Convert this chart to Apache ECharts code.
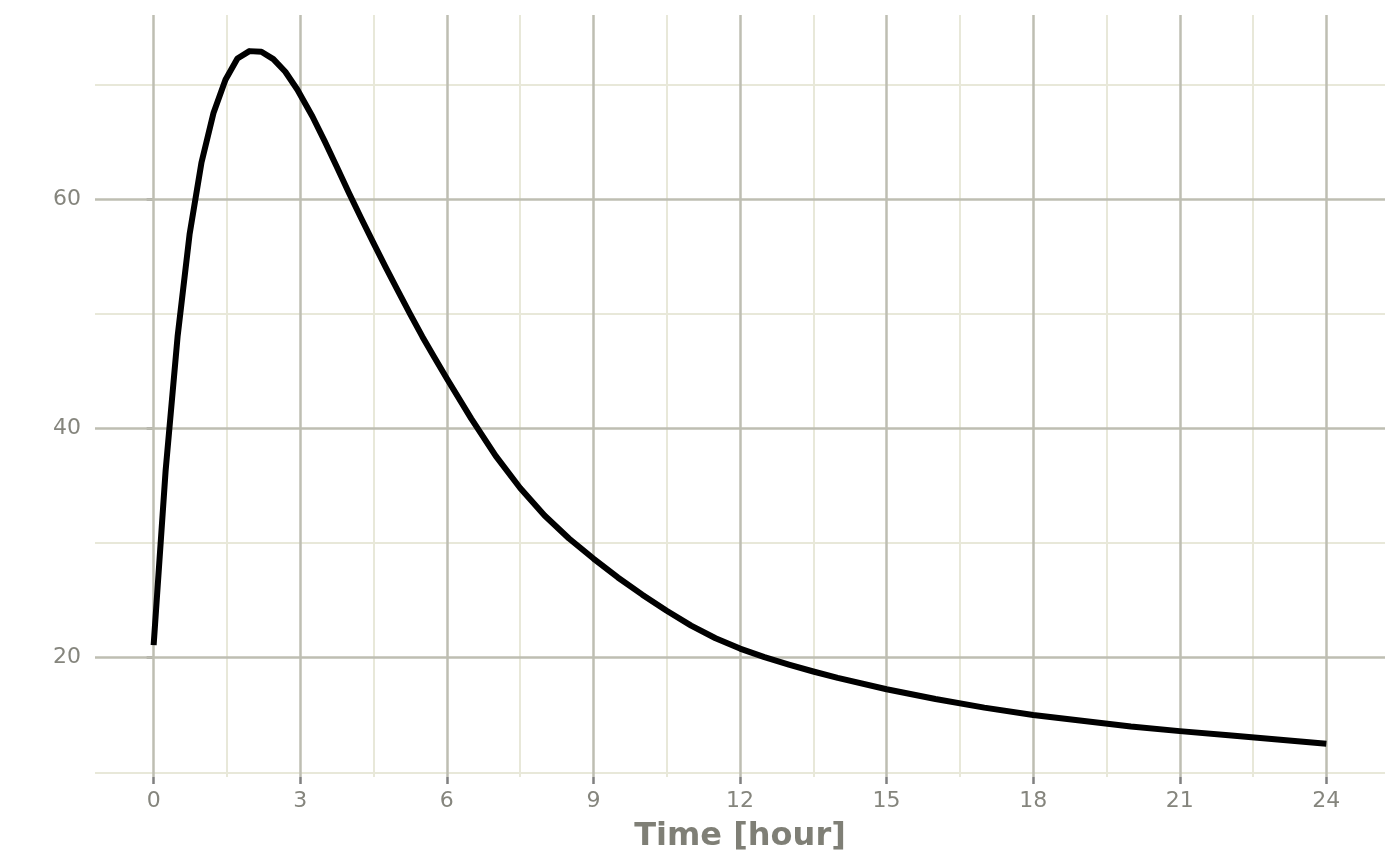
<!DOCTYPE html>
<html>
<head>
<meta charset="utf-8">
<title>Time [hour]</title>
<script src="https://cdn.jsdelivr.net/npm/echarts@6.0.0/dist/echarts.min.js"></script>
<style>
    html, body { margin: 0; padding: 0; background: #fff; }
    #chart { width: 1400px; height: 865px; }
</style>
</head>
<body>
<div id="chart"></div>
<script>
// values
var timeH = [0, 0.245, 0.49, 0.735, 0.98, 1.225, 1.47, 1.715, 1.96, 2.205, 2.45, 2.695, 2.94,
    3.25, 3.5, 3.75, 4, 4.25, 4.5, 4.75, 5, 5.25, 5.5, 5.75, 6,
    6.5, 7, 7.5, 8, 8.5, 9, 9.5, 10, 10.5, 11, 11.5, 12, 12.5, 13, 13.5, 14,
    15, 16, 17, 18, 19, 20, 21, 22, 23, 24];
var concentration = [21.1, 36.3, 48.0, 56.9, 63.2, 67.5, 70.4, 72.25, 72.9, 72.85, 72.2, 71.1, 69.55,
    67.2, 65.05, 62.8, 60.5, 58.3, 56.15, 54.05, 52.0, 49.97, 48.0, 46.15, 44.35,
    40.85, 37.6, 34.8, 32.4, 30.4, 28.65, 27.0, 25.5, 24.1, 22.8, 21.7, 20.8, 20.05, 19.4, 18.8, 18.25,
    17.25, 16.4, 15.65, 15.0, 14.5, 14.0, 13.6, 13.25, 12.87, 12.5];

var xMajor = [0, 3, 6, 9, 12, 15, 18, 21, 24];
var xMinor = [1.5, 4.5, 7.5, 10.5, 13.5, 16.5, 19.5, 22.5];
var yMajor = [20, 40, 60];
var yMinor = [10, 30, 50, 70];

var majorColor = "#bebeb2";
var minorColor = "#e8e8d9";

function gridLines(axis, values) {
    var out = [];
    for (var i = 0; i < values.length; i++) {
        var d = {};
        d[axis] = values[i];
        out.push(d);
    }
    return out;
}

function gridSeries(lines, color, width, z) {
    return {
        type: "line",
        data: [],
        z: z,
        silent: true,
        markLine: {
            silent: true,
            symbol: "none",
            animation: false,
            label: { show: false },
            emphasis: { disabled: true },
            lineStyle: { color: color, width: width, type: "solid" },
            data: lines
        }
    };
}

function init() {
    var chart = echarts.init(document.getElementById("chart"));
    var points = [];
    for (var i = 0; i < timeH.length; i++) {
        points.push([timeH[i], concentration[i]]);
    }
    var labelStyle = {
        color: "#85857d",
        fontFamily: "DejaVu Sans",
        fontSize: 22
    };
    chart.setOption({
        animation: false,
        backgroundColor: "#ffffff",
        grid: { left: 95, right: 15, top: 15, bottom: 88 },
        xAxis: {
            type: "value",
            min: -1.2,
            max: 25.2,
            name: "Time [hour]",
            nameLocation: "middle",
            nameGap: 44,
            nameTextStyle: {
                color: "#7f7f76",
                fontFamily: "DejaVu Sans",
                fontWeight: "bold",
                fontSize: 32
            },
            axisLine: { show: false },
            splitLine: { show: false },
            axisTick: {
                show: true,
                length: 7,
                customValues: xMajor,
                lineStyle: { color: "#808080", width: 2.5 }
            },
            axisLabel: Object.assign({ margin: 13, customValues: xMajor }, labelStyle)
        },
        yAxis: {
            type: "value",
            min: 9.6,
            max: 76.05,
            axisLine: { show: false },
            splitLine: { show: false },
            axisTick: {
                show: true,
                length: 7,
                customValues: yMajor,
                lineStyle: { color: "#808080", width: 2.5 }
            },
            axisLabel: Object.assign({ margin: 14, customValues: yMajor }, labelStyle)
        },
        series: [
            gridSeries(gridLines("yAxis", yMinor).concat(gridLines("xAxis", xMinor)), minorColor, 2, 1),
            gridSeries(gridLines("yAxis", yMajor).concat(gridLines("xAxis", xMajor)), majorColor, 2.5, 2),
            {
                type: "line",
                data: points,
                z: 5,
                showSymbol: false,
                symbol: "none",
                lineStyle: { color: "#000000", width: 6, cap: "butt", join: "round" }
            }
        ]
    });
}

init();
</script>
</body>
</html>
